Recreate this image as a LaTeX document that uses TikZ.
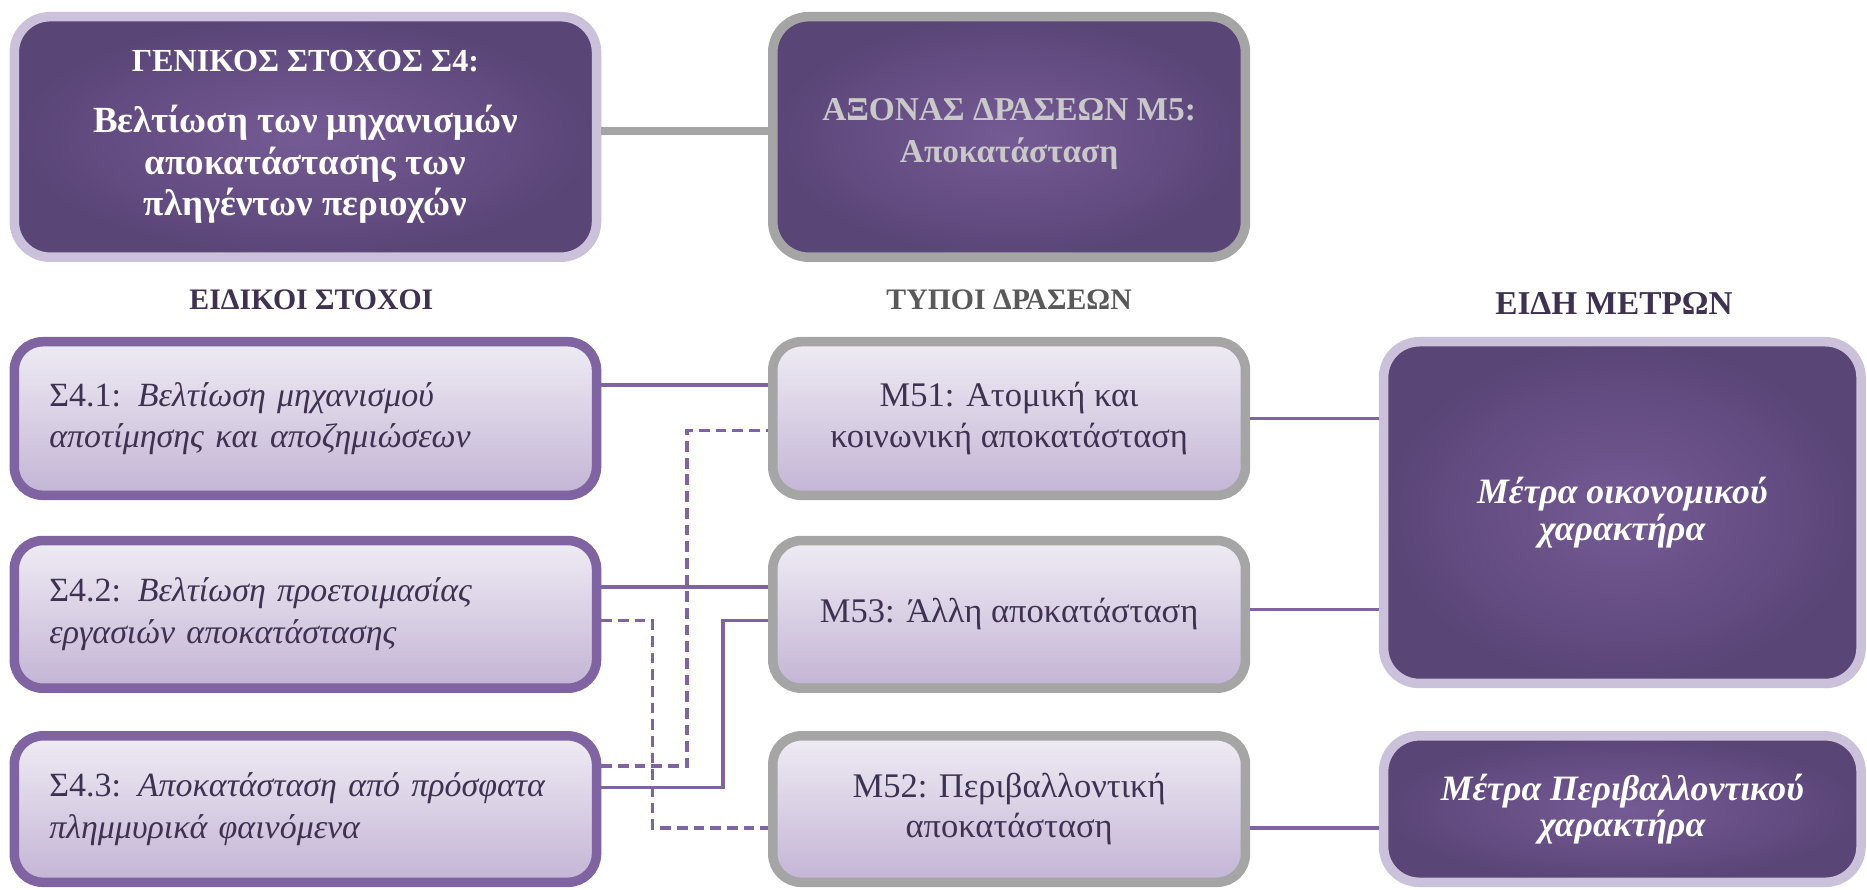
\documentclass[tikz,border=0pt]{standalone}
\usepackage{fontspec}
\setmainfont{Liberation Serif}
\usepackage{tikz}
\usetikzlibrary{positioning,calc}

\definecolor{plumdark}{HTML}{5A4577}
\definecolor{plumlight}{HTML}{755B95}
\definecolor{lavender}{HTML}{CCC1DA}
\definecolor{violet}{HTML}{8064A2}
\definecolor{ashgray}{HTML}{A5A5A5}
\definecolor{silver}{HTML}{C9C9C9}
\definecolor{mistTop}{HTML}{EFECF4}
\definecolor{mistBot}{HTML}{C3B4D5}
\definecolor{inkplum}{HTML}{3F3151}

\begin{document}
\begin{tikzpicture}[x=1pt, y=1pt]

  % Styles
  \tikzset{
    box/.style={rounded corners=24pt, line width=8pt, inner sep=0pt},
    darkbox/.style={box, rounded corners=30pt, draw=lavender, inner color=plumlight, outer color=plumdark,
      text=white, align=center, font=\fontsize{27}{35}\selectfont\bfseries},
    goalbox/.style={darkbox, minimum width=489pt, minimum height=202pt,
      font=\fontsize{31}{35}\selectfont\bfseries},
    axisbox/.style={darkbox, draw=ashgray, text=silver, minimum width=397pt, minimum height=202pt,
      font=\fontsize{28}{35}\selectfont\bfseries},
    kindbox/.style={darkbox, minimum width=401pt, font=\fontsize{30}{31}\selectfont\bfseries\itshape},
    aimbox/.style={box, draw=violet, top color=mistTop, bottom color=mistBot, text=inkplum,
      minimum width=489pt, text width=430pt, align=left, font=\fontsize{28.5}{35}\selectfont},
    typebox/.style={box, draw=ashgray, top color=mistTop, bottom color=mistBot, text=inkplum,
      minimum width=397pt, align=center, font=\fontsize{29}{34}\selectfont},
    head/.style={text=inkplum, font=\fontsize{25}{30}\selectfont\bfseries},
    link/.style={draw=violet, line width=3pt},
    altlink/.style={link, dash pattern=on 9pt off 5pt},
    trunk/.style={draw=ashgray, line width=6pt}
  }

  \useasboundingbox (0,0) rectangle (1568,-747);

  % General goal and action axis
  \node[goalbox] (G) at (256.5,-115) {\fontsize{27}{35}\selectfont ΓΕΝΙΚΟΣ ΣΤΟΧΟΣ Σ4:\\[16pt]Βελτίωση των μηχανισμών\\αποκατάστασης των\\πληγέντων περιοχών};
  \node[axisbox, right=140pt of G] (A) {ΑΞΟΝΑΣ ΔΡΑΣΕΩΝ Μ5:\\Αποκατάσταση\\[-24pt]};

  % Specific goals
  \node[aimbox, below=63pt of G, minimum height=129pt] (S41) {Σ4.1: \textit{Βελτίωση μηχανισμού}\\\textit{αποτίμησης και αποζημιώσεων}};
  \node[aimbox, below=30pt of S41, minimum height=124pt] (S42) {Σ4.2: \textit{Βελτίωση προετοιμασίας}\\\textit{εργασιών αποκατάστασης}};
  \node[aimbox, below=32pt of S42, minimum height=123pt] (S43) {Σ4.3: \textit{Αποκατάσταση από πρόσφατα}\\\textit{πλημμυρικά φαινόμενα}};

  % Action types
  \node[typebox, right=140pt of S41, minimum height=129pt] (M51) {Μ51: Ατομική και\\κοινωνική αποκατάσταση};
  \node[typebox, right=140pt of S42, minimum height=124pt] (M53) {Μ53: Άλλη αποκατάσταση};
  \node[typebox, right=140pt of S43, minimum height=123pt] (M52) {Μ52: Περιβαλλοντική\\αποκατάσταση};

  % Kinds of measures
  \node[kindbox, right=108pt of M51.north east, anchor=north west, minimum height=287pt] (E1) {Μέτρα οικονομικού\\χαρακτήρα};
  \node[kindbox, right=108pt of M52.north east, anchor=north west, minimum height=123pt] (E2) {Μέτρα Περιβαλλοντικού\\χαρακτήρα};

  % Column headings
  \node[head] (H1) at ($(G.south)!0.5!(S41.north)+(5,0)$) {ΕΙΔΙΚΟΙ ΣΤΟΧΟΙ};
  \node[head, text=black!65] (H2) at ($(A.south)!0.5!(M51.north)$) {ΤΥΠΟΙ ΔΡΑΣΕΩΝ};
  \node[head, font=\fontsize{28}{32}\selectfont\bfseries] (H3) at ($(E1.north |- H2)+(-7,-3)$) {ΕΙΔΗ ΜΕΤΡΩΝ};

  % Connectors
  \draw[trunk] ([yshift=5pt]G.east) -- ([yshift=5pt]A.west);

  \draw[link] ([yshift=28pt]S41.east) -- ([yshift=28pt]M51.west);
  \draw[link] ([yshift=23pt]S42.east) -- ([yshift=23pt]M53.west);
  \draw[link] ([yshift=18pt]S43.east) -- ++(102pt,0) |- ([yshift=-5pt]M53.west);
  \draw[altlink] ([yshift=36pt]S43.east) -- ++(72pt,0) |- ([yshift=-10pt]M51.west);
  \draw[altlink] ([yshift=-5pt]S42.east) -- ++(43pt,0) |- ([yshift=-16pt]M52.west);

  \draw[link] (M51.east) -- (M51.east -| E1.west);
  \draw[link] ([yshift=4pt]M53.east) -- ([yshift=4pt]M53.east -| E1.west);
  \draw[link] ([yshift=-16pt]M52.east) -- ([yshift=-16pt]M52.east -| E2.west);

\end{tikzpicture}
\end{document}
